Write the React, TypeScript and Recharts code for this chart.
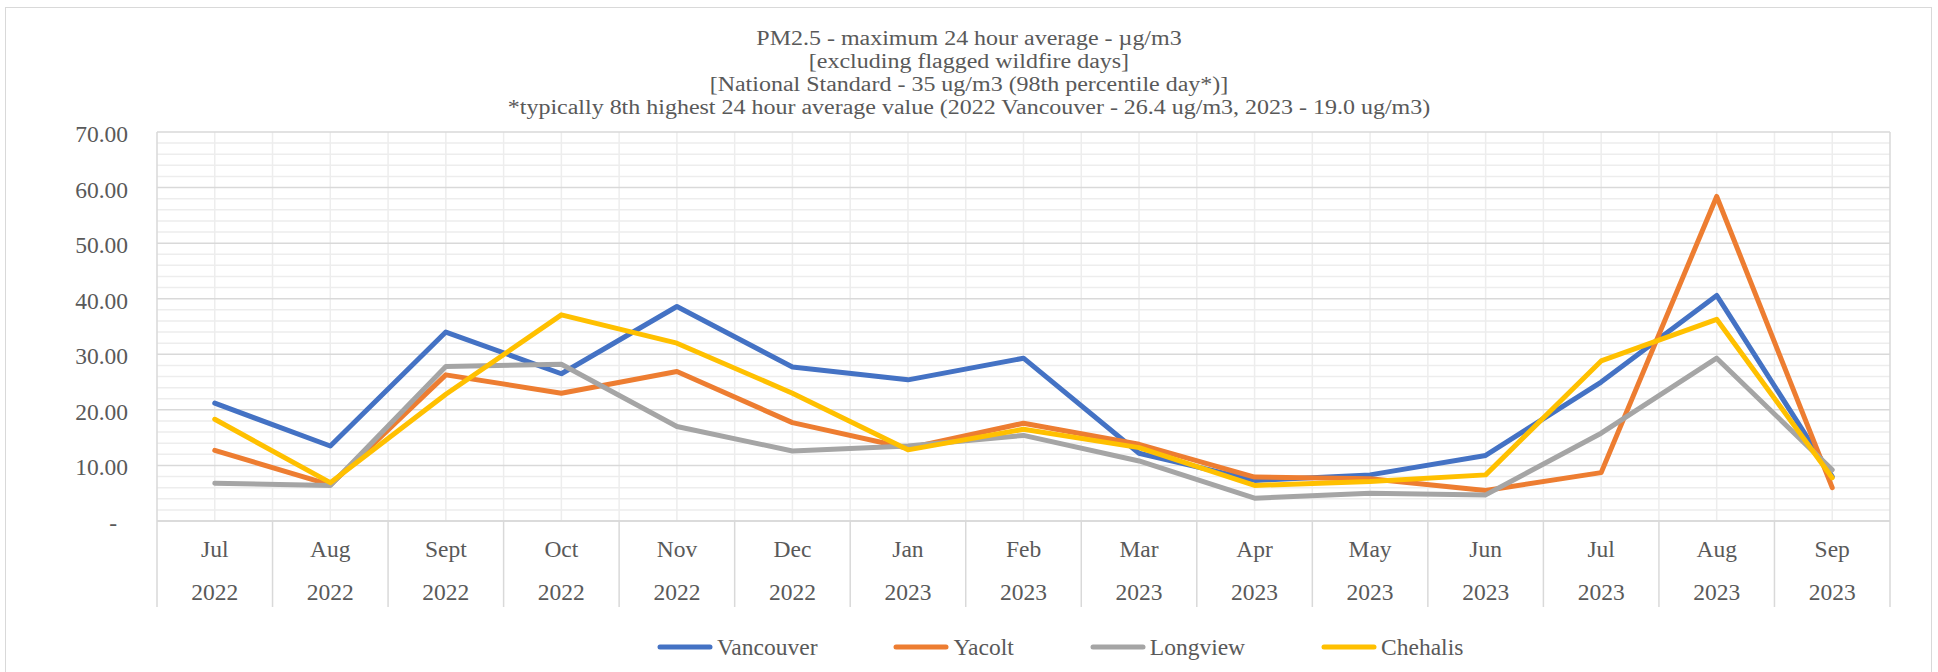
import { CartesianGrid, Customized, Legend, Line, LineChart, XAxis, YAxis } from 'recharts';

const months = ['Jul', 'Aug', 'Sept', 'Oct', 'Nov', 'Dec', 'Jan', 'Feb', 'Mar', 'Apr', 'May', 'Jun', 'Jul', 'Aug', 'Sep'];
const years = ['2022', '2022', '2022', '2022', '2022', '2022', '2023', '2023', '2023', '2023', '2023', '2023', '2023', '2023', '2023'];

const vancouver = [21.2, 13.5, 34.0, 26.5, 38.6, 27.7, 25.4, 29.3, 12.2, 7.3, 8.3, 11.8, 25.0, 40.6, 8.0];
const yacolt = [12.7, 6.5, 26.3, 23.0, 26.9, 17.7, 13.1, 17.6, 13.8, 7.9, 7.6, 5.5, 8.7, 58.4, 6.0];
const longview = [6.8, 6.4, 27.8, 28.2, 17.0, 12.6, 13.5, 15.4, 10.8, 4.1, 5.0, 4.7, 15.8, 29.3, 9.2];
const chehalis = [18.3, 6.9, 22.8, 37.1, 32.0, 23.0, 12.8, 16.5, 13.2, 6.4, 7.1, 8.3, 28.8, 36.3, 7.8];

const yTicks = [0, 10, 20, 30, 40, 50, 60, 70];
const minorTicks = [2, 4, 6, 8, 12, 14, 16, 18, 22, 24, 26, 28, 32, 34, 36, 38, 42, 44, 46, 48, 52, 54, 56, 58, 62, 64, 66, 68];

const titleLines = [
  'PM2.5 - maximum 24 hour average - µg/m3',
  '[excluding flagged wildfire days]',
  '[National Standard - 35 ug/m3 (98th percentile day*)]',
  '*typically 8th highest 24 hour average value (2022 Vancouver - 26.4 ug/m3, 2023 - 19.0 ug/m3)',
];

const series = [
  { key: 'vancouver', name: 'Vancouver', color: '#4472C4' },
  { key: 'yacolt', name: 'Yacolt', color: '#ED7D31' },
  { key: 'longview', name: 'Longview', color: '#A5A5A5' },
  { key: 'chehalis', name: 'Chehalis', color: '#FFC000' },
];

const data = months.map((m, i) => ({
  label: `${m} ${years[i]}`,
  month: m,
  year: years[i],
  vancouver: vancouver[i],
  yacolt: yacolt[i],
  longview: longview[i],
  chehalis: chehalis[i],
}));

const FONT = '"Liberation Serif", "Times New Roman", serif';
const TEXT = '#595959';
const MAJOR = '#d9d9d9';
const MINOR = '#ededed';
const Y_MAX = 70;
const X_AXIS_HEIGHT = 86;

// title glyphs are wide for their line spacing, so draw smaller and stretch
const TITLE_SIZE = 20.5;
const TITLE_STRETCH = 24 / TITLE_SIZE;
const TITLE_CENTER = 969;

// y position inside the plot for a value, from the grid's offset
const yPos = (offset: any, v: number) => offset.top + offset.height * (1 - v / Y_MAX);

function XTick(props: any) {
  const { x, y, payload, index, visibleTicksCount } = props;
  const half = typeof payload.offset === 'number' && payload.offset > 0 ? payload.offset : 57.75;
  const row = data[index];
  return (
    <g>
      <line x1={x - half} y1={y} x2={x - half} y2={y + X_AXIS_HEIGHT} stroke={MAJOR} strokeWidth={1.5} />
      {index === visibleTicksCount - 1 && (
        <line x1={x + half} y1={y} x2={x + half} y2={y + X_AXIS_HEIGHT} stroke={MAJOR} strokeWidth={1.5} />
      )}
      <text x={x} y={y + 36} textAnchor="middle" fontFamily={FONT} fontSize={23.5} fill={TEXT}>
        {row.month}
      </text>
      <text x={x} y={y + 79} textAnchor="middle" fontFamily={FONT} fontSize={23.5} fill={TEXT}>
        {row.year}
      </text>
    </g>
  );
}

function YTick(props: any) {
  const { x, y, payload } = props;
  const v = Number(payload.value);
  return (
    <text x={v === 0 ? x - 11 : x} y={y} dy={10} textAnchor="end" fontFamily={FONT} fontSize={23.5} fill={TEXT}>
      {v === 0 ? '-' : v.toFixed(2)}
    </text>
  );
}

function ChartTitle() {
  return (
    <g transform={`scale(${TITLE_STRETCH}, 1)`}>
      {titleLines.map((t, i) => (
        <text
          key={i}
          x={TITLE_CENTER / TITLE_STRETCH}
          y={45.5 + i * 22.8}
          textAnchor="middle"
          fontFamily={FONT}
          fontSize={TITLE_SIZE}
          fill={TEXT}
        >
          {t}
        </text>
      ))}
    </g>
  );
}

function LegendRow() {
  return (
    <div style={{ display: 'flex', alignItems: 'center', fontFamily: FONT, fontSize: 23.5, color: TEXT, lineHeight: '28px' }}>
      {series.map((s) => (
        <div key={s.key} style={{ display: 'flex', alignItems: 'center', marginRight: 76 }}>
          <svg width={56} height={10} style={{ display: 'block' }}>
            <line x1={3} y1={5} x2={53} y2={5} stroke={s.color} strokeWidth={5} strokeLinecap="round" />
          </svg>
          <span style={{ marginLeft: 4, whiteSpace: 'nowrap' }}>{s.name}</span>
        </div>
      ))}
    </div>
  );
}

export default function App() {
  return (
    <div style={{ position: 'absolute', left: 0, top: 0, width: 1938, height: 672, background: '#fff', overflow: 'hidden' }}>
      <div
        style={{
          position: 'absolute',
          left: 5,
          top: 7,
          width: 1927,
          height: 700,
          border: `1.5px solid ${MAJOR}`,
          boxSizing: 'border-box',
        }}
      />
      <LineChart width={1938} height={672} data={data} margin={{ top: 132, right: 48, left: 97, bottom: 65 }}>
        <CartesianGrid
          stroke={MINOR}
          strokeWidth={1.5}
          horizontalCoordinatesGenerator={({ offset }: any) => minorTicks.map((v) => yPos(offset, v))}
          verticalCoordinatesGenerator={({ offset }: any) =>
            Array.from({ length: 29 }, (_, k) => offset.left + ((k + 1) * offset.width) / 30)
          }
        />
        <CartesianGrid
          stroke={MAJOR}
          strokeWidth={1.5}
          horizontalCoordinatesGenerator={({ offset }: any) => yTicks.map((v) => yPos(offset, v))}
          verticalCoordinatesGenerator={({ offset }: any) => [offset.left, offset.left + offset.width]}
        />
        <XAxis
          dataKey="label"
          scale="band"
          interval={0}
          height={X_AXIS_HEIGHT}
          tickSize={0}
          tickMargin={0}
          tickLine={false}
          axisLine={{ stroke: MAJOR, strokeWidth: 1.5 }}
          tick={XTick}
        />
        <YAxis
          domain={[0, Y_MAX]}
          ticks={yTicks}
          width={60}
          tickSize={0}
          tickMargin={29}
          tickLine={false}
          axisLine={false}
          tick={YTick}
        />
        {series.map((s) => (
          <Line
            key={s.key}
            type="linear"
            dataKey={s.key}
            name={s.name}
            stroke={s.color}
            strokeWidth={5}
            strokeLinecap="round"
            strokeLinejoin="round"
            dot={false}
            activeDot={false}
            isAnimationActive={false}
          />
        ))}
        <Customized component={ChartTitle} />
        <Legend
          layout="vertical"
          align="center"
          verticalAlign="middle"
          content={LegendRow}
          wrapperStyle={{ top: 633, left: 657, width: 1100, height: 28 }}
        />
      </LineChart>
    </div>
  );
}
